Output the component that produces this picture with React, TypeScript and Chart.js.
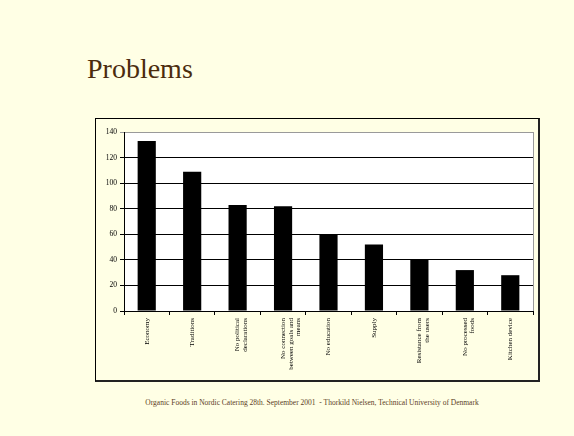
import React, { useEffect, useRef } from "react";
import { Chart, registerables } from "chart.js";

Chart.register(...registerables);

const categories: (string | string[])[] = [
  "Economy",
  "Traditions",
  ["No political", "declarations"],
  ["No connection", "between goals and", "means"],
  "No education",
  "Supply",
  ["Resistance from", "the users"],
  ["No processed", "foods"],
  "Kitchen device",
];
const values: number[] = [133, 109, 83, 82, 60, 52, 40, 32, 28];
const yMax = 140;
const yStep = 20;

const titleText = "Problems";
const footerText =
  "Organic Foods in Nordic Catering 28th. September 2001  - Thorkild Nielsen, Technical University of Denmark";

const SERIF = "'Liberation Serif', 'Times New Roman', serif";
const BG = "#FFFFE5";

const plotBg = {
  id: "plotBg",
  beforeDraw(chart: any) {
    const { ctx, chartArea } = chart;
    ctx.save();
    ctx.fillStyle = "#FFFFFF";
    ctx.fillRect(chartArea.left, chartArea.top, chartArea.right - chartArea.left, chartArea.bottom - chartArea.top);
    ctx.restore();
  },
  afterDatasetsDraw(chart: any) {
    const { ctx, chartArea } = chart;
    ctx.save();
    ctx.strokeStyle = "#9A9A9A";
    ctx.lineWidth = 1;
    ctx.beginPath();
    ctx.moveTo(Math.round(chartArea.right) + 0.5, chartArea.top);
    ctx.lineTo(Math.round(chartArea.right) + 0.5, chartArea.bottom);
    ctx.stroke();
    ctx.restore();
  },
};

export default function App() {
  const ref = useRef<HTMLCanvasElement | null>(null);

  useEffect(() => {
    if (!ref.current) return;
    const chart = new Chart(ref.current, {
      type: "bar",
      data: {
        labels: categories,
        datasets: [
          {
            data: values,
            backgroundColor: "#000000",
            borderWidth: 0,
            barPercentage: 0.4,
            categoryPercentage: 1,
          },
        ],
      },
      options: {
        animation: false,
        responsive: false,
        maintainAspectRatio: false,
        devicePixelRatio: 1,
        layout: { padding: { left: 0, top: 13, right: 4, bottom: 0 } },
        plugins: { legend: { display: false }, tooltip: { enabled: false }, title: { display: false } },
        scales: {
          x: {
            offset: true,
            grid: {
              display: true,
              drawOnChartArea: false,
              drawTicks: true,
              tickLength: 4,
              color: "#000000",
              offset: true,
            },
            border: { display: true, color: "#000000", width: 1 },
            ticks: {
              autoSkip: false,
              maxRotation: 90,
              minRotation: 90,
              color: "#000000",
              padding: 3,
              font: { family: SERIF, size: 7, lineHeight: 1.1 },
            },
            afterFit(scale: any) {
              scale.height = 69;
            },
          },
          y: {
            min: 0,
            max: yMax,
            ticks: {
              stepSize: yStep,
              color: "#000000",
              padding: 3,
              font: { family: SERIF, size: 7.5 },
            },
            grid: {
              color: (ctx: any) => (ctx.tick && ctx.tick.value === yMax ? "#9A9A9A" : "#000000"),
              lineWidth: 1,
              tickLength: 4,
            },
            border: { display: true, color: "#000000", width: 1 },
            afterFit(scale: any) {
              scale.width = 28;
            },
          },
        },
      },
      plugins: [plotBg],
    });
    return () => chart.destroy();
  }, []);

  return (
    <div
      style={{
        position: "fixed",
        left: 0,
        top: 0,
        width: 574,
        height: 436,
        background: BG,
        overflow: "hidden",
      }}
    >
      <div
        style={{
          position: "absolute",
          left: 87,
          top: 54.6,
          fontFamily: SERIF,
          fontSize: 28,
          lineHeight: "28px",
          color: "#4B2C0E",
          whiteSpace: "nowrap",
        }}
      >
        {titleText}
      </div>
      <div
        style={{
          position: "absolute",
          left: 95,
          top: 118,
          width: 442,
          height: 261,
          borderTop: "1px solid #000",
          borderLeft: "1px solid #000",
          borderRight: "2px solid #222",
          borderBottom: "2px solid #222",
        }}
      />
      <canvas
        ref={ref}
        width={441}
        height={261}
        style={{ position: "absolute", left: 96, top: 119, width: 441, height: 261 }}
      />
      <div
        style={{
          position: "absolute",
          left: 0,
          width: 624,
          top: 398,
          textAlign: "center",
          fontFamily: SERIF,
          fontSize: 7.5,
          lineHeight: "9px",
          color: "#5C3D1E",
          whiteSpace: "pre",
        }}
      >
        {footerText}
      </div>
    </div>
  );
}
